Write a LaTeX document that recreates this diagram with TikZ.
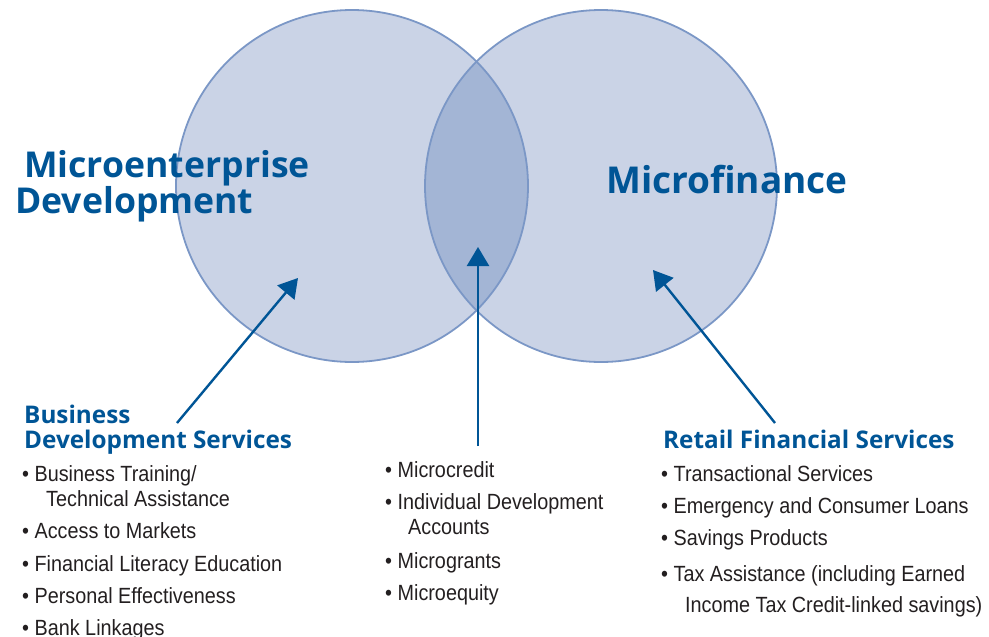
\documentclass[tikz,border=0pt]{standalone}
\usepackage{fontspec}
\usetikzlibrary{arrows.meta}
\newfontfamily\headfont{Open Sans}
\newfontfamily\bodyfont[FakeStretch=0.9]{Liberation Sans}
\definecolor{circfill}{HTML}{CAD3E6}
\definecolor{overfill}{HTML}{A3B5D5}
\definecolor{circline}{HTML}{7B97C6}
\definecolor{headblue}{HTML}{005596}
\definecolor{bodygray}{HTML}{231F20}
\tikzset{
  bigtitle/.style={anchor=base west, inner sep=0pt, text=headblue, font=\headfont\bfseries\fontsize{35.6}{36}\selectfont},
  subtitle/.style={anchor=base west, inner sep=0pt, text=headblue, font=\headfont\bfseries\fontsize{24.3}{25}\selectfont},
  item/.style={anchor=base west, inner sep=0pt, text=bodygray, font=\bodyfont\fontsize{22}{22}\selectfont},
  pointer/.style={draw=headblue, line width=2.4pt, -{Triangle[length=19pt,width=22pt]}},
  circ/.style={draw=circline, line width=1.8pt}
}
\begin{document}
\begin{tikzpicture}[x=1pt,y=-1pt]
\useasboundingbox (0,0) rectangle (989,637);
% circles
\fill[circfill] (352,186) circle (176);
\fill[circfill] (601,186) circle (176);
\begin{scope}
  \clip (352,186) circle (176);
  \fill[overfill] (601,186) circle (176);
\end{scope}
\draw[circ] (352,186) circle (176);
\draw[circ] (601,186) circle (176);
% big titles
\node[bigtitle] (me1) at (24,177) {Microenterprise};
\node[bigtitle] (me2) at (15,213) {Development};
\node[bigtitle, font=\headfont\bfseries\fontsize{37}{37}\selectfont] (mf) at (606,193) {Microfinance};
% subtitles
\node[subtitle] (bds1) at (24,423) {Business};
\node[subtitle] (bds2) at (24,448) {Development Services};
\node[subtitle] (rfs) at (663,448) {Retail Financial Services};
% left list
\node[item] (l1) at (22,481) {• Business Training/};
\node[item] (l1b) at (46,506) {Technical Assistance};
\node[item] (l2) at (22,538) {• Access to Markets};
\node[item] (l3) at (22,571) {• Financial Literacy Education};
\node[item] (l4) at (22,603) {• Personal Effectiveness};
\node[item] (l5) at (22,635) {• Bank Linkages};
% middle list
\node[item] (m1) at (385,477) {• Microcredit};
\node[item] (m2) at (385,509) {• Individual Development};
\node[item] (m2b) at (408,534) {Accounts};
\node[item] (m3) at (385,568) {• Microgrants};
\node[item] (m4) at (385,600) {• Microequity};
% right list
\node[item] (r1) at (661,481) {• Transactional Services};
\node[item] (r2) at (661,513) {• Emergency and Consumer Loans};
\node[item] (r3) at (661,545) {• Savings Products};
\node[item] (r4) at (661,581) {• Tax Assistance (including Earned};
\node[item] (r4b) at (685,612) {Income Tax Credit-linked savings)};
% arrows
\coordinate (ls) at (177,423);
\coordinate (lt) at (298,278);
\coordinate (ms) at (478,446);
\coordinate (mt) at (478,247);
\coordinate (rs) at (775,423);
\coordinate (rt) at (653,270);
\draw[pointer] (ls) -- (lt);
\draw[pointer] (ms) -- (mt);
\draw[pointer] (rs) -- (rt);
\end{tikzpicture}
\end{document}
